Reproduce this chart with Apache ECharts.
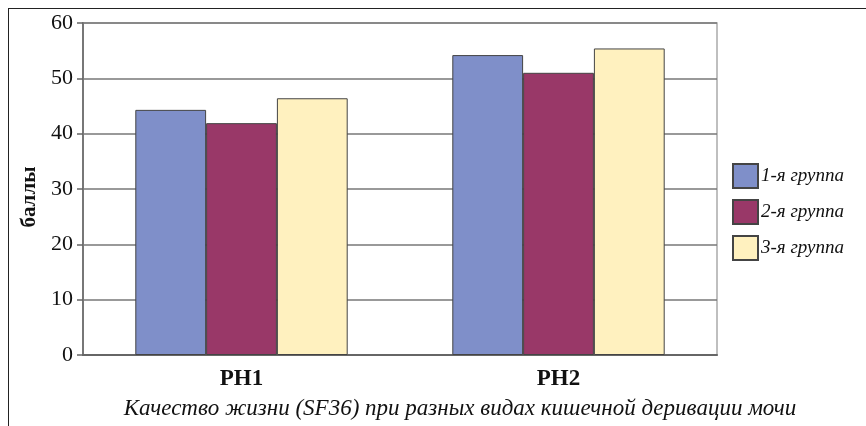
<!DOCTYPE html>
<html><head><meta charset="utf-8">
<script src="https://cdn.jsdelivr.net/npm/echarts@6/dist/echarts.min.js"></script>
<style>html,body{margin:0;padding:0;background:#fff}#c{width:866px;height:426px;position:relative}
#f{position:absolute;left:8px;top:8px;width:900px;height:500px;border-left:1.5px solid #222;border-top:1.5px solid #222;pointer-events:none}</style>
</head><body><div id="c"></div><div id="f"></div>
<script>
const categories = ['PH1', 'PH2'];
const seriesNames = ['1-я группа', '2-я группа', '3-я группа'];
const group1 = [44.3, 54.2];
const group2 = [41.9, 51.0];
const group3 = [46.4, 55.4];
const yTicks = [0, 10, 20, 30, 40, 50, 60];
const colors = ['#7F8FC9', '#993868', '#FFF1BF'];
const chartTitle = 'Качество жизни (SF36) при разных видах кишечной деривации мочи';
const yName = 'баллы';

const serif = '"Liberation Serif", "DejaVu Serif", serif';
const chart = echarts.init(document.getElementById('c'), null, {renderer: 'canvas'});
const data = [group1, group2, group3];
chart.setOption({
  animation: false,
  color: colors,
  title: {
    text: chartTitle, left: 455, bottom: 1, textAlign: 'center',
    textStyle: {fontFamily: serif, fontStyle: 'italic', fontWeight: 'normal', fontSize: 23, color: '#111'}
  },
  legend: {
    orient: 'vertical', left: 727, top: 158, itemWidth: 25, itemHeight: 24, itemGap: 10,
    icon: 'rect', data: seriesNames,
    textStyle: {fontFamily: serif, fontStyle: 'italic', fontSize: 19, color: '#111', padding: [0,0,0,-2]}
  },
  grid: {left: 83, right: 149, top: 23, bottom: 71, show: true, borderColor: '#aaa', borderWidth: 1.5, backgroundColor: 'transparent'},
  xAxis: {
    type: 'category', data: categories,
    axisLine: {lineStyle: {color: '#666', width: 2}},
    axisTick: {show: false},
    axisLabel: {fontFamily: serif, fontWeight: 'bold', fontSize: 23, color: '#111', margin: 13}
  },
  yAxis: {
    type: 'value', min: yTicks[0], max: yTicks[yTicks.length - 1], interval: 10,
    name: yName, nameLocation: 'middle', nameGap: 43, nameRotate: 90,
    nameTextStyle: {fontFamily: serif, fontWeight: 'bold', fontSize: 21, color: '#111', padding: [0, 16, 0, 0]},
    axisLine: {show: true, lineStyle: {color: '#777', width: 2}},
    axisTick: {show: true, length: 6, lineStyle: {color: '#666', width: 1.5}},
    axisLabel: {fontFamily: serif, fontSize: 22, color: '#111', margin: 10},
    splitLine: {lineStyle: {color: '#777', width: 1.5}}
  },
  series: seriesNames.map((n, i) => ({
    name: n, type: 'bar', data: data[i], barGap: '0%', barCategoryGap: '33%',
    itemStyle: {color: colors[i], borderColor: '#444', borderWidth: 1}
  }))
});
</script></body></html>
